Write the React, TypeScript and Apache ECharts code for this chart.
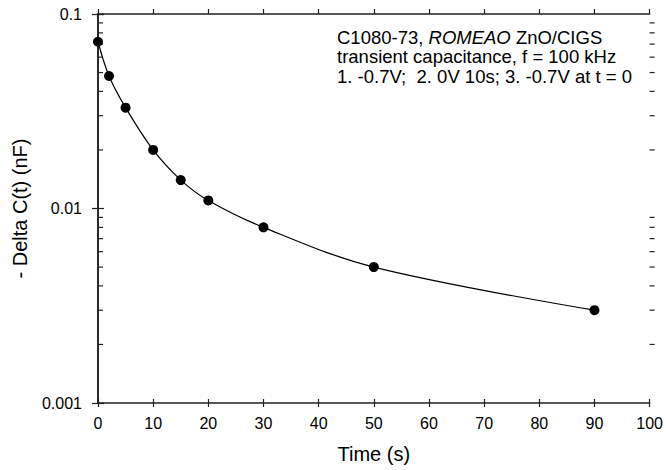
import React, { useEffect, useRef } from "react";
import * as echarts from "echarts";

const timeS = [0, 2, 5, 10, 15, 20, 30, 50, 90];
const deltaC = [0.072, 0.048, 0.033, 0.02, 0.014, 0.011, 0.008, 0.005, 0.003];
const minorTickValues = [0.002, 0.003, 0.004, 0.005, 0.006, 0.007, 0.008, 0.009, 0.02, 0.03, 0.04, 0.05, 0.06, 0.07, 0.08, 0.09];
const annotationLines = [
  "C1080-73, {i|ROMEAO} ZnO/CIGS",
  "transient capacitance, f = 100 kHz",
  "1. -0.7V;  2. 0V 10s; 3. -0.7V at t = 0",
];

const FONT = "Liberation Sans, Arial, sans-serif";
const AX = "#222";

export default function App() {
  const ref = useRef<HTMLDivElement>(null);
  useEffect(() => {
    const chart = echarts.init(ref.current!, null, { renderer: "svg" });
    const axisLine = { show: true, lineStyle: { color: AX, width: 1.6 } };
    const tickStyle = { color: AX, width: 1.2 };
    chart.setOption({
      animation: false,
      backgroundColor: "#fff",
      grid: { left: 98, right: 14, top: 14, bottom: 67 },
      xAxis: [
        {
          type: "value",
          min: 0,
          max: 100,
          interval: 10,
          position: "bottom",
          axisLine,
          axisTick: { show: true, length: 4, inside: false, lineStyle: tickStyle },
          axisLabel: { color: "#000", fontSize: 16, fontFamily: FONT, margin: 12 },
          splitLine: { show: false },
          name: "Time (s)",
          nameLocation: "middle",
          nameGap: 41,
          nameTextStyle: { color: "#000", fontSize: 20, fontFamily: FONT },
        },
        {
          type: "value",
          min: 0,
          max: 100,
          interval: 10,
          position: "top",
          axisLine,
          axisTick: { show: true, length: 5, inside: false, lineStyle: tickStyle },
          axisLabel: { show: false },
          splitLine: { show: false },
        },
        {
          type: "value",
          min: 0,
          max: 100,
          interval: 10,
          position: "bottom",
          axisLine: { show: false },
          axisTick: { show: true, length: 4, inside: true, lineStyle: tickStyle },
          axisLabel: { show: false },
          splitLine: { show: false },
        },
      ],
      yAxis: [
        {
          type: "log",
          logBase: 10,
          min: 0.001,
          max: 0.1,
          position: "left",
          axisLine,
          axisTick: { show: true, length: 6, inside: false, lineStyle: tickStyle },
          axisLabel: {
            color: "#000",
            fontSize: 16,
            fontFamily: FONT,
            margin: 16,
            formatter: (v: number) => (v >= 0.099 ? "0.1" : v >= 0.0099 ? "0.01" : "0.001"),
          },
          splitLine: { show: false },
          name: "- Delta C(t) (nF)",
          nameLocation: "middle",
          nameGap: 68,
          nameTextStyle: { color: "#000", fontSize: 20, fontFamily: FONT },
        },
        {
          type: "log",
          logBase: 10,
          min: 0.001,
          max: 0.1,
          position: "right",
          axisLine,
          axisTick: { show: true, length: 6, inside: false, lineStyle: tickStyle },
          axisLabel: { show: false },
          splitLine: { show: false },
        },
      ],
      series: [
        {
          type: "line",
          data: timeS.map((t, i) => [t, deltaC[i]]),
          smooth: 0.35,
          symbol: "circle",
          symbolSize: 10,
          itemStyle: { color: "#000" },
          lineStyle: { color: "#000", width: 1.2 },
          z: 3,
        },
        {
          type: "custom",
          data: minorTickValues.map((v) => [0, v]),
          renderItem: (params: any, api: any) => {
            const y = api.coord([0, api.value(1)])[1];
            const cs = params.coordSys;
            const l = cs.x;
            const r = cs.x + cs.width;
            const style = { stroke: AX, lineWidth: 1.2 };
            return {
              type: "group",
              children: [
                { type: "line", shape: { x1: l, y1: y, x2: l + 5, y2: y }, style },
                { type: "line", shape: { x1: r, y1: y, x2: r + 5, y2: y }, style },
              ],
            };
          },
          silent: true,
          z: 2,
        },
      ],
      graphic: [
        {
          type: "text",
          left: 337,
          top: 27.5,
          style: {
            text: annotationLines.join("\n"),
            fontSize: 18.5,
            fontFamily: FONT,
            fill: "#000",
            lineHeight: 19.5,
            rich: {
              i: { fontStyle: "italic", fontSize: 18.5, fontFamily: FONT, fill: "#000" },
            },
          },
        },
      ],
    });
    return () => chart.dispose();
  }, []);
  return <div ref={ref} style={{ width: 666, height: 470, position: "absolute", left: 0, top: 0 }} />;
}
